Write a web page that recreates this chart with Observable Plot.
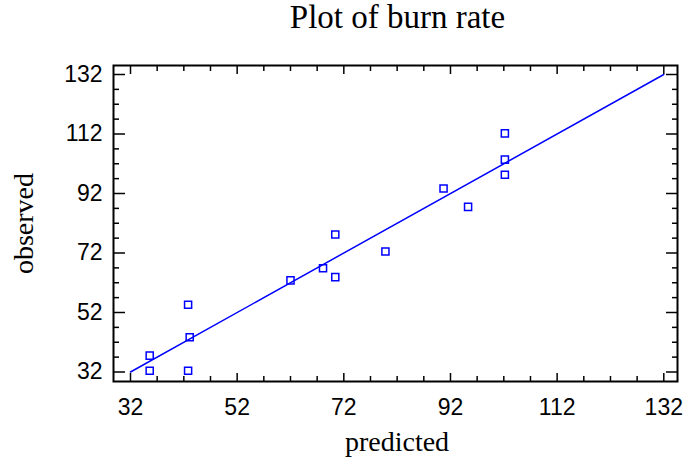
<!DOCTYPE html>
<html>
<head>
<meta charset="utf-8">
<script src="https://cdn.jsdelivr.net/npm/d3@7"></script>
<script src="https://cdn.jsdelivr.net/npm/@observablehq/plot@0.6"></script>
<style>
  body { margin: 0; background: #fff; }
  #title {
    width: 684px; box-sizing: border-box; padding-left: 118px; padding-right: 7px;
    height: 34px; line-height: 34px; font-family: "Liberation Serif", "Times New Roman", serif;
    font-size: 33px; text-align: center; color: #000; white-space: nowrap;
  }
</style>
</head>
<body>
<div id="title"></div>
<div id="chart"></div>
<script>
const chartTitle = "Plot of burn rate";
const xLabel = "predicted";
const yLabel = "observed";

const predicted = [35.6, 35.6, 42.8, 42.8, 43.1, 62.0, 68.1, 70.4, 70.4, 79.8, 90.7, 95.3, 102.2, 102.2, 102.2];
const observed  = [37.5, 32.4, 32.4, 54.6, 43.7, 62.8, 66.9, 78.2, 63.9, 72.5, 93.7, 87.5, 112.2, 103.4, 98.3];

const lineX = [32, 132];
const lineY = [32, 132];

const majorTicks = [32, 52, 72, 92, 112, 132];
const minorTicks = [37, 42, 47, 57, 62, 67, 77, 82, 87, 97, 102, 107, 117, 122, 127];

document.getElementById("title").textContent = chartTitle;

const points = predicted.map((p, i) => ({predicted: p, observed: observed[i]}));
const diag = lineX.map((x, i) => ({predicted: x, observed: lineY[i]}));

const tickStyle = {fill: "none", label: null, stroke: "black", strokeWidth: 1.5};

const chart = Plot.plot({
  width: 684,
  height: 429,
  marginTop: 31,
  marginBottom: 82,
  marginLeft: 113,
  marginRight: 7,
  x: {domain: [32, 132], range: [130, 663.3]},
  y: {domain: [32, 132], range: [337.5, 40]},
  style: {background: "white", color: "black", fontFamily: "'Liberation Sans', Arial, sans-serif"},
  marks: [
    Plot.line(diag, {x: "predicted", y: "observed", stroke: "#0000ff", strokeWidth: 1.5}),
    Plot.dot(points, {x: "predicted", y: "observed", symbol: "square", r: 4, stroke: "#0000ff", strokeWidth: 1.5, fill: "none"}),
    // inward ticks
    Plot.axisX(majorTicks, {anchor: "bottom", tickSize: -8, ...tickStyle}),
    Plot.axisX(minorTicks, {anchor: "bottom", tickSize: -5, ...tickStyle}),
    Plot.axisX(majorTicks, {anchor: "top", tickSize: -8, ...tickStyle}),
    Plot.axisX(minorTicks, {anchor: "top", tickSize: -5, ...tickStyle}),
    Plot.axisY(majorTicks, {anchor: "left", tickSize: -12, ...tickStyle}),
    Plot.axisY(minorTicks, {anchor: "left", tickSize: -6, ...tickStyle}),
    Plot.axisY(majorTicks, {anchor: "right", tickSize: -12, ...tickStyle}),
    Plot.axisY(minorTicks, {anchor: "right", tickSize: -6, ...tickStyle}),
    // tick labels
    Plot.axisX(majorTicks, {anchor: "bottom", tickSize: 0, tickPadding: 17, fontSize: 23, label: null, fill: "black"}),
    Plot.axisY(majorTicks, {anchor: "left", tickSize: 0, tickPadding: 11, fontSize: 23, label: null, fill: "black"}),
    Plot.frame({stroke: "black", strokeWidth: 2}),
    // axis titles
    Plot.text([xLabel], {text: d => d, frameAnchor: "bottom", textAnchor: "middle", lineAnchor: "middle", dy: 61, dx: 1.5, fontSize: 28, fontFamily: "'Liberation Serif', 'Times New Roman', serif", fill: "black"}),
    Plot.text([yLabel], {text: d => d, frameAnchor: "left", textAnchor: "middle", lineAnchor: "middle", rotate: -90, dx: -89, fontSize: 28, fontFamily: "'Liberation Serif', 'Times New Roman', serif", fill: "black"})
  ]
});
document.getElementById("chart").appendChild(chart);
</script>
</body>
</html>
